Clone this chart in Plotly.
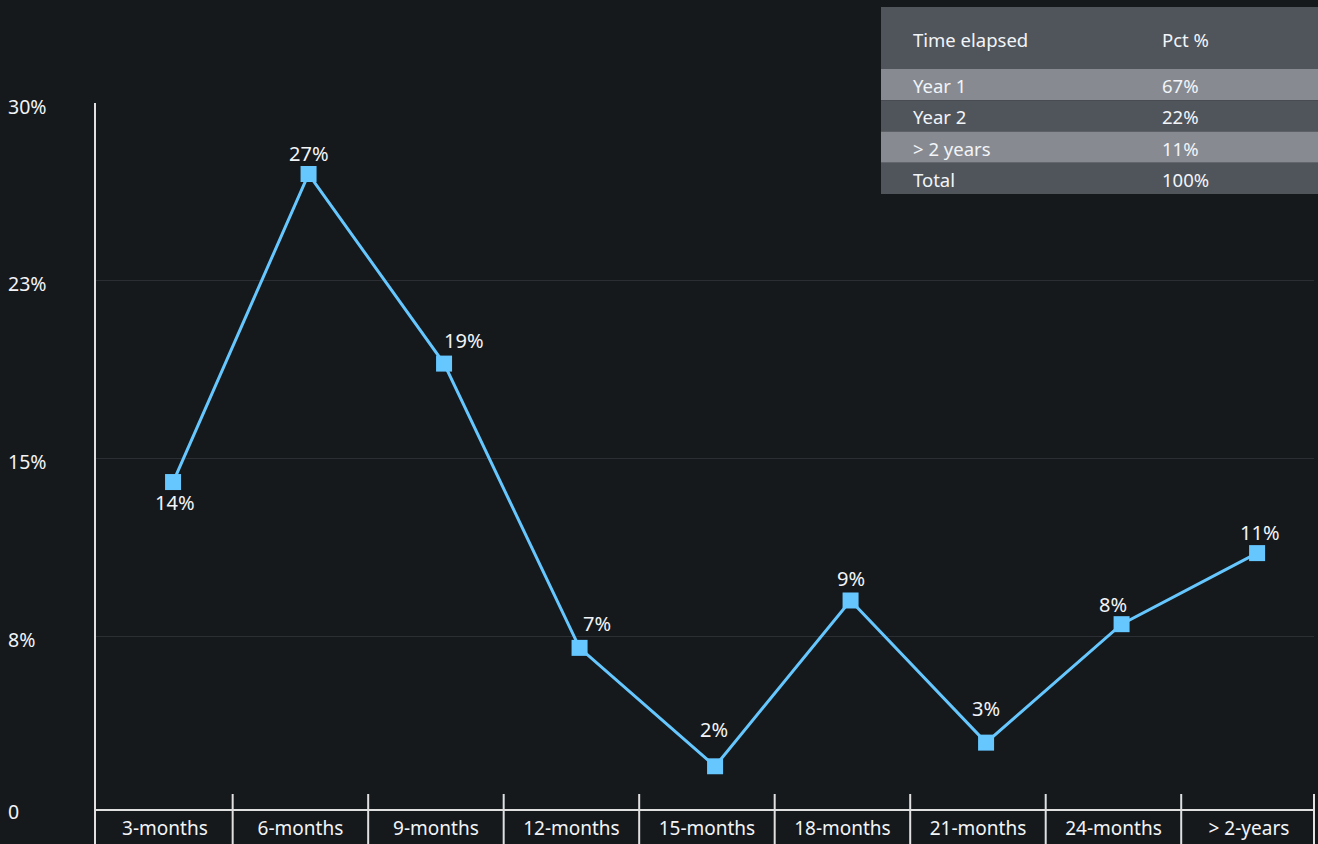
import plotly.graph_objects as go

# Share of events by time elapsed
periods = ["3-months", "6-months", "9-months", "12-months", "15-months",
           "18-months", "21-months", "24-months", "> 2-years"]
shares = [14, 27, 19, 7, 2, 9, 3, 8, 11]

y_tick_values = [0, 7.5, 15, 22.5, 30]
y_tick_labels = ["0", "8%", "15%", "23%", "30%"]

# Summary table
table_header = ["Time elapsed", "Pct %"]
table_periods = ["Year 1", "Year 2", "> 2 years", "Total"]
table_shares = [67, 22, 11, 100]

W, H = 1318, 844
BG = "#15191c"
AXIS = "#e0e0e0"
GRID = "#2b2f33"
LINE = "#66c7ff"
TEXT = "#f2f4f8"
ROW_LIGHT = "#878b91"
ROW_DARK = "#50555b"
FONT = "Noto Sans"

# pixel offsets (x, y) of each value label from its marker
label_shift = [(2, -20), (0, 21), (20, 23), (17, 24), (-1, 37),
               (0, 22), (0, 34), (-9, 20), (3, 21)]
# vertical pixel nudge of each y tick label
ytick_shift = [2, -3, -3, -3, -3]


def fx(p):
    return p / W


def fy(p):
    return 1 - p / H


x_pos = list(range(len(periods)))

fig = go.Figure()
fig.add_trace(go.Scatter(
    x=x_pos, y=shares, mode="lines+markers",
    line=dict(color=LINE, width=3),
    marker=dict(symbol="square", size=16, color=LINE),
    hoverinfo="skip", showlegend=False,
))

annotations = []
for i, v in enumerate(shares):
    dx, dy = label_shift[i]
    annotations.append(dict(
        x=i, y=v, xref="x", yref="y", text=f"{v}%", showarrow=False,
        xshift=dx, yshift=dy, font=dict(family=FONT, size=20, color=TEXT),
    ))

for v, t, s in zip(y_tick_values, y_tick_labels, ytick_shift):
    annotations.append(dict(
        x=fx(6), y=v, xref="paper", yref="y", text=t, showarrow=False,
        xanchor="left", yanchor="middle", yshift=s,
        font=dict(family=FONT, size=19.5, color=TEXT),
    ))

shapes = []
# vertical axis line, running down through the category strip
shapes.append(dict(type="line", xref="x domain", yref="paper",
                   x0=0, x1=0, y0=fy(103), y1=0,
                   line=dict(color=AXIS, width=2)))
# category separators below the x axis
sep_top = fy(794)
for i in range(len(periods) - 1):
    shapes.append(dict(type="line", xref="x", yref="paper",
                       x0=i + 0.44, x1=i + 0.44, y0=sep_top, y1=0,
                       line=dict(color=AXIS, width=2)))
shapes.append(dict(type="line", xref="x domain", yref="paper",
                   x0=1, x1=1, y0=sep_top, y1=0,
                   line=dict(color=AXIS, width=2)))

# summary table drawn as header block plus striped rows
tbl_left, tbl_right = fx(881), 1.0
head_top, head_bottom = 7, 69
row_h = 31.25
col_text_x = [fx(911), fx(1160)]
tfont = dict(family=FONT, size=18.5, color=TEXT)

shapes.append(dict(type="rect", xref="paper", yref="paper", layer="below",
                   x0=tbl_left, x1=tbl_right, y0=fy(head_bottom), y1=fy(head_top),
                   fillcolor=ROW_DARK, line=dict(width=0)))
for c, h in enumerate(table_header):
    annotations.append(dict(
        x=col_text_x[c], y=fy((head_top + head_bottom) / 2), xref="paper", yref="paper",
        text=h, showarrow=False, xanchor="left", yanchor="middle", yshift=-2,
        font=tfont,
    ))

for r, (name, pct) in enumerate(zip(table_periods, table_shares)):
    top = head_bottom + r * row_h
    bottom = top + row_h
    shapes.append(dict(type="rect", xref="paper", yref="paper", layer="below",
                       x0=tbl_left, x1=tbl_right, y0=fy(bottom), y1=fy(top),
                       fillcolor=ROW_LIGHT if r % 2 == 0 else ROW_DARK,
                       line=dict(width=0)))
    for c, t in enumerate([name, f"{pct}%"]):
        annotations.append(dict(
            x=col_text_x[c], y=fy((top + bottom) / 2), xref="paper", yref="paper",
            text=t, showarrow=False, xanchor="left", yanchor="middle", yshift=-1,
            font=tfont,
        ))

fig.update_layout(
    width=W, height=H, template="none",
    paper_bgcolor=BG, plot_bgcolor=BG,
    margin=dict(l=0, r=0, t=0, b=0),
    font=dict(family=FONT, size=19, color=TEXT),
    annotations=annotations, shapes=shapes,
    xaxis=dict(
        domain=[fx(95), fx(1314)], range=[-0.576, 8.42],
        anchor="free", position=fy(810),
        tickmode="array", tickvals=[i - 0.06 for i in x_pos], ticktext=periods,
        ticks="", showgrid=False, zeroline=False,
        showline=True, linecolor=AXIS, linewidth=2,
        tickfont=dict(family=FONT, size=19, color=TEXT),
        ticklabelstandoff=1, automargin=False, fixedrange=True,
    ),
    yaxis=dict(
        domain=[fy(813.7), fy(103)], range=[0, 30],
        tickmode="array", tickvals=y_tick_values[1:], showticklabels=False,
        ticks="", showgrid=True, gridcolor=GRID, gridwidth=1, zeroline=False,
        showline=False, automargin=False, fixedrange=True,
    ),
)

fig.write_html("out.html")
